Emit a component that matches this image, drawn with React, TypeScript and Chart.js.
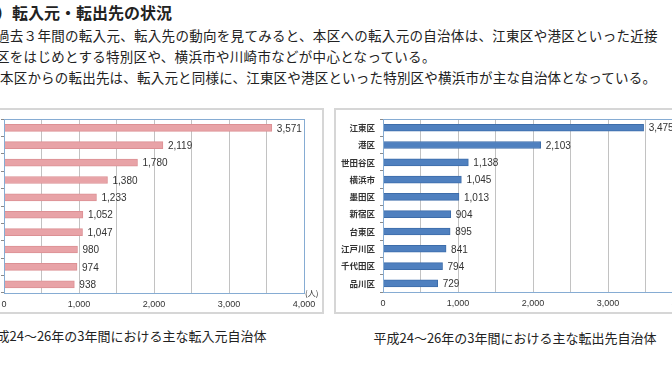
import React, { useEffect, useRef } from "react";
import { Chart, registerables } from "chart.js";

Chart.register(...registerables);

// ---- data ----
const inLabels = ["江東区", "港区", "世田谷区", "横浜市", "川崎市", "墨田区", "品川区", "大田区", "江戸川区", "台東区"];
const inValues = [3571, 2119, 1780, 1380, 1233, 1052, 1047, 980, 974, 938];
const outLabels = ["江東区", "港区", "世田谷区", "横浜市", "墨田区", "新宿区", "台東区", "江戸川区", "千代田区", "品川区"];
const outValues = [3475, 2103, 1138, 1045, 1013, 904, 895, 841, 794, 729];
const axisMax = 4000;
const gridStep = 500;
const labelStep = 1000;
const unitLabel = "(人)";

const headingText = "）転入元・転出先の状況";
const bodyLines = [
  "過去３年間の転入元、転入先の動向を見てみると、本区への転入元の自治体は、江東区や港区といった近接",
  "区をはじめとする特別区や、横浜市や川崎市などが中心となっている。",
  "本区からの転出先は、転入元と同様に、江東区や港区といった特別区や横浜市が主な自治体となっている。",
];
const inCaption = "平成24～26年の3年間における主な転入元自治体";
const outCaption = "平成24～26年の3年間における主な転出先自治体";

const CJK = '"Noto Sans CJK JP", sans-serif';
const SANS = '"Liberation Sans", Arial, sans-serif';

type BarProps = {
  labels: string[];
  values: number[];
  color: string;
  border: string;
  width: number;
  height: number;
  yWidth: number;
  xHeight: number;
  padRight: number;
  padTop: number;
  style: React.CSSProperties;
};

function BarChart(p: BarProps) {
  const ref = useRef<HTMLCanvasElement | null>(null);
  useEffect(() => {
    if (!ref.current) return;
    const framePlugin = {
      id: "frame",
      afterDatasetsDraw(chart: any) {
        const { ctx, chartArea: a } = chart;
        ctx.save();
        ctx.strokeStyle = "#86acd3";
        ctx.lineWidth = 1;
        ctx.strokeRect(Math.round(a.left) + 0.5, Math.round(a.top) + 0.5, Math.round(a.right - a.left), Math.round(a.bottom - a.top));
        // value labels
        ctx.fillStyle = "#333";
        ctx.font = `10px ${SANS}`;
        ctx.textBaseline = "middle";
        ctx.textAlign = "left";
        const meta = chart.getDatasetMeta(0);
        meta.data.forEach((el: any, i: number) => {
          const v = chart.data.datasets[0].data[i] as number;
          ctx.fillText(v.toLocaleString("en-US"), el.x + 5, el.y + 1);
        });
        // unit
        ctx.font = `8px ${CJK}`;
        ctx.fillText(unitLabel, a.right + 1, a.bottom);
        ctx.restore();
      },
    };
    const chart = new Chart(ref.current, {
      type: "bar",
      data: {
        labels: p.labels,
        datasets: [
          {
            data: p.values,
            backgroundColor: p.color,
            borderColor: p.border,
            borderWidth: 1,
            barThickness: 7,
          },
        ],
      },
      options: {
        indexAxis: "y",
        responsive: false,
        animation: false,
        layout: { padding: { left: 0, right: p.padRight, top: p.padTop, bottom: 0 } },
        plugins: { legend: { display: false }, tooltip: { enabled: false } },
        scales: {
          x: {
            type: "linear",
            min: 0,
            max: axisMax,
            ticks: {
              stepSize: gridStep,
              autoSkip: false,
              maxRotation: 0,
              padding: 6,
              color: "#333",
              font: { family: SANS, size: 9 },
              callback: (v: any) => (Number(v) % labelStep === 0 ? Number(v).toLocaleString("en-US") : ""),
            },
            grid: { color: "#c2c2c2", lineWidth: 1, drawTicks: false },
            border: { display: false },
            afterFit: (s: any) => {
              s.height = p.xHeight;
            },
          },
          y: {
            type: "category",
            offset: true,
            ticks: {
              padding: 5,
              color: "#333",
              font: { family: CJK, size: 8.5, weight: "bold" },
            },
            grid: { offset: true, drawOnChartArea: false, tickLength: 3, color: "#8a8a8a" },
            border: { display: false },
            afterFit: (s: any) => {
              s.width = p.yWidth;
            },
          },
        },
      },
      plugins: [framePlugin],
    } as any);
    return () => chart.destroy();
  }, []);
  return <canvas ref={ref} width={p.width} height={p.height} style={{ position: "absolute", width: p.width, height: p.height, ...p.style }} />;
}

export default function App() {
  const textBase: React.CSSProperties = {
    position: "absolute",
    whiteSpace: "nowrap",
    fontFamily: CJK,
    color: "#222",
    lineHeight: "20px",
  };
  return (
    <div style={{ position: "fixed", left: 0, top: 0, width: 672, height: 372, overflow: "hidden", background: "#fff" }}>
      <div style={{ ...textBase, left: -4, top: 2, fontSize: 16, fontWeight: "bold" }}>{headingText}</div>
      <div style={{ ...textBase, left: -4, top: 25, fontSize: 13.5, letterSpacing: 0.3 }}>{bodyLines[0]}</div>
      <div style={{ ...textBase, left: -4, top: 46, fontSize: 13.5, letterSpacing: 0.3 }}>{bodyLines[1]}</div>
      <div style={{ ...textBase, left: 0, top: 67, fontSize: 13.5, letterSpacing: 0.2 }}>{bodyLines[2]}</div>

      <div style={{ position: "absolute", left: -10, top: 108, width: 334, height: 206, border: "2px solid #d6d6d6", boxSizing: "border-box" }} />
      <div style={{ position: "absolute", left: 334, top: 108, width: 400, height: 206, border: "2px solid #d6d6d6", boxSizing: "border-box" }} />

      <BarChart
        labels={inLabels}
        values={inValues}
        color="#e8a3a7"
        border="#dc9094"
        width={400}
        height={204}
        yWidth={80}
        xHeight={20}
        padRight={20}
        padTop={9}
        style={{ left: -76, top: 109 }}
      />
      <BarChart
        labels={outLabels}
        values={outValues}
        color="#4f80bf"
        border="#3d6daa"
        width={372}
        height={204}
        yWidth={48}
        xHeight={21}
        padRight={24}
        padTop={9}
        style={{ left: 335, top: 109 }}
      />

      <div style={{ ...textBase, left: -175, width: 600, textAlign: "center", top: 326, fontSize: 13 }}>{inCaption}</div>
      <div style={{ ...textBase, left: 215, width: 600, textAlign: "center", top: 328, fontSize: 13 }}>{outCaption}</div>
    </div>
  );
}
